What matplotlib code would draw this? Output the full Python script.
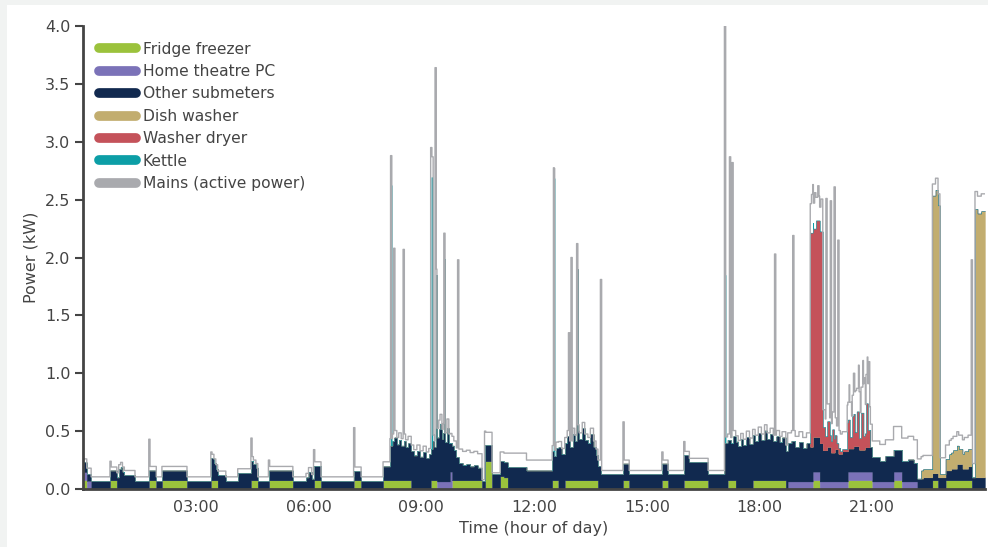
import numpy as np
import matplotlib
matplotlib.use("Agg")
import matplotlib.pyplot as plt
from matplotlib.lines import Line2D
from matplotlib.patches import Rectangle

# (hour, kW) breakpoints, held until the next one
FRIDGE = [
    (0.00, 0.075), (0.10, 0.0), (0.71, 0.075), (0.90, 0.0), (1.75, 0.075), (1.94, 0.0),
    (2.10, 0.075), (2.76, 0.0), (3.40, 0.075), (3.58, 0.0), (4.46, 0.075), (4.65, 0.0),
    (4.94, 0.075), (5.58, 0.0), (6.14, 0.075), (6.32, 0.0), (7.20, 0.075), (7.39, 0.0),
    (7.97, 0.075), (8.72, 0.0), (9.25, 0.075), (9.41, 0.0), (9.81, 0.075), (10.61, 0.0),
    (10.69, 0.24), (10.87, 0.0), (11.09, 0.11), (11.20, 0.10), (11.30, 0.0),
    (12.47, 0.075), (12.65, 0.0), (12.81, 0.075), (13.70, 0.0), (14.36, 0.075), (14.52, 0.0),
    (15.40, 0.075), (15.56, 0.0), (15.98, 0.075), (16.62, 0.0), (17.15, 0.075), (17.36, 0.0),
    (17.81, 0.075), (18.70, 0.0), (19.41, 0.075), (19.60, 0.0), (20.34, 0.075), (21.00, 0.0),
    (21.56, 0.075), (21.77, 0.0), (22.60, 0.075), (22.75, 0.0), (22.95, 0.075), (23.64, 0.0),
]
HTPC = [
    (0.00, 0.07), (0.21, 0.0), (9.41, 0.065), (9.76, 0.15), (9.81, 0.0),
    (18.74, 0.065), (19.41, 0.075), (19.60, 0.065), (20.34, 0.075), (21.00, 0.065),
    (21.56, 0.075), (21.77, 0.065), (22.20, 0.0),
]
OTHER = [
    (0.00, 0.085), (0.10, 0.06), (0.21, 0.07), (0.71, 0.085), (0.90, 0.10), (0.95, 0.17),
    (1.00, 0.19), (1.05, 0.15), (1.10, 0.12), (1.37, 0.07), (1.75, 0.085), (1.94, 0.07),
    (2.10, 0.085), (2.76, 0.07), (3.40, 0.19), (3.47, 0.15), (3.53, 0.10), (3.58, 0.12),
    (3.79, 0.07), (4.11, 0.14), (4.46, 0.17), (4.52, 0.14), (4.60, 0.11), (4.65, 0.07),
    (4.94, 0.085), (5.58, 0.07), (5.93, 0.10), (6.00, 0.15), (6.07, 0.09), (6.14, 0.125),
    (6.32, 0.07), (7.20, 0.08), (7.39, 0.07), (7.97, 0.12), (8.16, 0.30), (8.22, 0.34),
    (8.28, 0.37), (8.34, 0.31), (8.40, 0.35), (8.46, 0.30), (8.52, 0.34), (8.58, 0.29),
    (8.64, 0.32), (8.72, 0.33), (8.80, 0.29), (8.88, 0.33), (8.96, 0.28), (9.04, 0.32),
    (9.12, 0.27), (9.20, 0.30), (9.25, 0.27), (9.30, 0.34), (9.35, 0.29), (9.41, 0.38),
    (9.46, 0.45), (9.50, 0.50), (9.54, 0.37), (9.58, 0.42), (9.63, 0.34), (9.68, 0.46),
    (9.72, 0.33), (9.76, 0.25), (9.81, 0.30), (9.86, 0.26), (9.92, 0.20), (10.00, 0.15),
    (10.10, 0.13), (10.20, 0.14), (10.30, 0.12), (10.40, 0.13), (10.50, 0.11), (10.61, 0.07),
    (10.69, 0.14), (10.87, 0.13), (11.09, 0.13), (11.30, 0.19), (11.79, 0.16), (12.47, 0.25),
    (12.52, 0.21), (12.58, 0.28), (12.65, 0.36), (12.72, 0.30), (12.81, 0.32), (12.88, 0.38),
    (12.95, 0.29), (13.02, 0.40), (13.08, 0.34), (13.14, 0.43), (13.20, 0.36), (13.28, 0.45),
    (13.34, 0.35), (13.42, 0.32), (13.50, 0.40), (13.58, 0.29), (13.64, 0.22), (13.70, 0.20),
    (13.78, 0.13), (14.36, 0.145), (14.52, 0.13), (15.40, 0.145), (15.56, 0.13), (15.98, 0.22),
    (16.13, 0.16), (16.62, 0.13), (17.06, 0.40), (17.15, 0.35), (17.22, 0.32), (17.30, 0.38),
    (17.36, 0.41), (17.42, 0.37), (17.50, 0.43), (17.56, 0.38), (17.64, 0.45), (17.72, 0.39),
    (17.81, 0.39), (17.88, 0.34), (17.96, 0.41), (18.04, 0.35), (18.12, 0.43), (18.20, 0.36),
    (18.28, 0.40), (18.36, 0.34), (18.44, 0.38), (18.52, 0.33), (18.60, 0.37), (18.70, 0.33),
    (18.85, 0.35), (18.95, 0.30), (19.05, 0.34), (19.15, 0.29), (19.25, 0.33), (19.34, 0.30),
    (19.41, 0.30), (19.60, 0.33), (19.68, 0.27), (19.80, 0.30), (19.90, 0.25), (20.00, 0.28),
    (20.10, 0.24), (20.20, 0.26), (20.34, 0.20), (20.50, 0.22), (20.65, 0.19), (20.80, 0.21),
    (21.00, 0.21), (21.20, 0.18), (21.35, 0.22), (21.56, 0.19), (21.77, 0.175), (21.95, 0.19),
    (22.10, 0.16), (22.20, 0.09), (22.35, 0.10), (22.60, 0.06), (22.75, 0.10), (22.95, 0.085),
    (23.10, 0.10), (23.25, 0.14), (23.40, 0.10), (23.55, 0.12), (23.64, 0.10),
]
DISH_WASHER = [
    (0.00, 0.0), (22.30, 0.07), (22.60, 2.40), (22.68, 2.45), (22.75, 2.35), (22.80, 0.03),
    (22.95, 0.10), (23.05, 0.14), (23.15, 0.16), (23.30, 0.13), (23.45, 0.15), (23.64, 0.0),
    (23.73, 2.32), (23.80, 2.28), (23.90, 2.30),
]
WASHER_DRYER = [
    (0.00, 0.0), (19.34, 1.85), (19.42, 1.80), (19.50, 1.87), (19.60, 1.83), (19.68, 0.20),
    (19.75, 0.12), (19.80, 0.22), (19.86, 0.10), (19.92, 0.20), (19.98, 0.12), (20.05, 0.05),
    (20.15, 0.02), (20.32, 0.25), (20.40, 0.10), (20.46, 0.28), (20.52, 0.12), (20.58, 0.30),
    (20.64, 0.10), (20.70, 0.32), (20.76, 0.12), (20.82, 0.38), (20.88, 0.15), (20.95, 0.0),
]
# mains minus the submeter stack (unmetered load)
MAINS_EXTRA = [
    (0.00, 0.03), (0.10, 0.05), (0.21, 0.035), (0.71, 0.03), (0.90, 0.04), (1.37, 0.035),
    (7.97, 0.04), (8.16, 0.06), (8.72, 0.05), (9.41, 0.08), (10.00, 0.12), (10.61, 0.01),
    (10.69, 0.11), (10.87, 0.01), (11.09, 0.08), (11.30, 0.12), (11.79, 0.09), (12.47, 0.05),
    (13.78, 0.03), (17.06, 0.05), (18.74, 0.09), (19.34, 0.25), (19.38, 0.33), (19.42, 0.22),
    (19.46, 0.31), (19.50, 0.20), (19.54, 0.30), (19.58, 0.21), (19.63, 0.28), (19.68, 0.15),
    (20.32, 0.15), (20.38, 0.30), (20.44, 0.18), (20.50, 0.35), (20.56, 0.20), (20.62, 0.40),
    (20.68, 0.22), (20.74, 0.45), (20.80, 0.25), (20.86, 0.40), (20.92, 0.20), (21.00, 0.14),
    (21.56, 0.20), (22.20, 0.17), (22.30, 0.12), (22.60, 0.10), (22.80, 0.14), (22.95, 0.12),
    (23.73, 0.15),
]
# short bursts: (hour, kW), about two minutes long
KETTLE_SPIKES = [(8.18, 2.25), (9.26, 2.35), (12.52, 2.40), (17.07, 1.45)]
OTHER_SPIKES = [(9.38, 1.85), (9.60, 1.99), (13.14, 1.90)]
MAINS_SPIKES = [
    (0.71, 0.24), (1.75, 0.43), (3.40, 0.32), (4.46, 0.44), (4.94, 0.25), (6.14, 0.34),
    (7.20, 0.53), (8.18, 2.88), (8.27, 2.08), (8.52, 2.07), (9.25, 2.95), (9.29, 2.87),
    (9.36, 3.64), (9.60, 2.21), (9.96, 1.98), (10.69, 0.50), (12.52, 2.77), (12.92, 1.35),
    (12.99, 2.00), (13.14, 2.12), (13.76, 1.81), (14.36, 0.58), (15.40, 0.32), (15.98, 0.41),
    (17.07, 4.00), (17.20, 2.87), (17.27, 2.82), (18.40, 2.03), (18.88, 2.19), (19.77, 2.51),
    (19.88, 2.49), (19.99, 2.61), (20.08, 2.15), (20.55, 0.85), (20.78, 0.96), (20.90, 1.10),
    (23.63, 1.98),
]

LABELS = ["Fridge freezer", "Home theatre PC", "Other submeters", "Dish washer",
          "Washer dryer", "Kettle", "Mains (active power)"]
COLORS = ["#9bc23c", "#7b72b8", "#11294f", "#c2ad6f", "#c4525a", "#0c9ea6", "#a9aaae"]
XTICKS = [3, 6, 9, 12, 15, 18, 21]
XTICK_LABELS = ["03:00", "06:00", "09:00", "12:00", "15:00", "18:00", "21:00"]

TEXT = "#444444"

minutes = np.arange(24 * 60 + 1)
t = minutes / 60.0


def steps(pairs):
    bp = np.array([p[0] for p in pairs])
    kw = np.array([p[1] for p in pairs])
    idx = np.searchsorted(bp, t + 1e-9, side="right") - 1
    return kw[np.clip(idx, 0, None)]


def add_spikes(series, spikes, width=2):
    for hour, kw in spikes:
        i = int(round(hour * 60))
        series[i:i + width] = np.maximum(series[i:i + width], kw)


fridge = steps(FRIDGE)
htpc = steps(HTPC)
other = steps(OTHER)
for hour, kw in OTHER_SPIKES:
    i = int(round(hour * 60))
    other[i:i + 2] = kw - fridge[i:i + 2] - htpc[i:i + 2]
dish = steps(DISH_WASHER)
washer = steps(WASHER_DRYER)
kettle = np.zeros_like(t)
add_spikes(kettle, KETTLE_SPIKES)

layers = [fridge, htpc, other, dish, washer, kettle]
mains = np.sum(layers, axis=0) + steps(MAINS_EXTRA)
add_spikes(mains, MAINS_SPIKES)

fig = plt.figure(figsize=(9.88, 5.47), dpi=100, facecolor="#f1f3f2")
fig.patches.append(Rectangle((7 / 988, 0), 1, 542 / 547, transform=fig.transFigure,
                             facecolor="white", edgecolor="none", zorder=-5))
ax = fig.add_axes([83 / 988, 58 / 547, 902 / 988, 463 / 547])
ax.patch.set_alpha(0)

bottom = np.zeros_like(t)
for series, color in zip(layers, COLORS):
    top = bottom + series
    ax.fill_between(t, bottom, top, step="post", facecolor=color, edgecolor=color,
                    linewidth=0.2)
    bottom = top
ax.plot(t, mains, drawstyle="steps-post", color=COLORS[-1], lw=1.0)

ax.set_xlim(0, 24)
ax.set_ylim(0, 4.0)
ax.set_yticks(np.arange(0, 4.01, 0.5))
ax.set_yticklabels([f"{v:.1f}" for v in np.arange(0, 4.01, 0.5)])
ax.set_xticks(XTICKS)
ax.set_xticklabels(XTICK_LABELS)

for side in ["top", "right"]:
    ax.spines[side].set_visible(False)
for side in ["left", "bottom"]:
    ax.spines[side].set_color(TEXT)
    ax.spines[side].set_linewidth(2)
ax.tick_params(axis="y", colors=TEXT, labelsize=11.5, length=6, width=1.5, pad=3)
ax.tick_params(axis="x", colors=TEXT, labelsize=11.5, length=0, pad=8)
ax.set_ylabel("Power (kW)", color=TEXT, fontsize=11.5, labelpad=5)
ax.set_xlabel("Time (hour of day)", color=TEXT, fontsize=11.5, labelpad=4)

handles = [Line2D([0], [0], color=c, lw=7, solid_capstyle="round") for c in COLORS]
ax.legend(handles, LABELS, loc="upper left", bbox_to_anchor=(0.0, 1.0), frameon=False,
          fontsize=11.2, labelcolor=TEXT, handlelength=2.4, handletextpad=0.45,
          labelspacing=0.48, borderaxespad=0.6)

fig.savefig("out.png", dpi=100, facecolor=fig.get_facecolor())
